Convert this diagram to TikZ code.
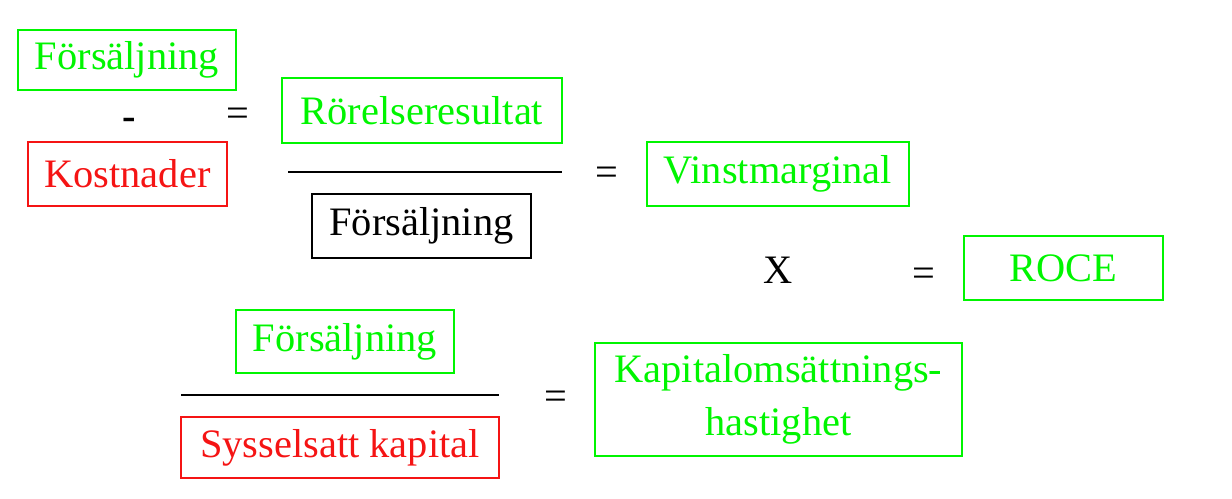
\documentclass[tikz,border=0pt]{standalone}
\usepackage{fontspec}
\setmainfont{Liberation Serif}
\usepackage{tikz}
\usepackage{xcolor}
\definecolor{gron}{RGB}{0,245,0}
\definecolor{rod}{RGB}{245,20,20}
\tikzset{
  ruta/.style={draw,line width=0.9pt,inner sep=0pt,align=center},
  gruta/.style={ruta,draw=gron,text=gron},
  rruta/.style={ruta,draw=rod,text=rod},
  sruta/.style={ruta,draw=black,text=black},
  tecken/.style={inner sep=0pt},
  streck/.style={line width=0.9pt}
}
\begin{document}
\begin{tikzpicture}[x=0.02cm,y=-0.02cm,font=\fontsize{23}{27}\selectfont]
\useasboundingbox (0,0) rectangle (1232,498);
% vinstmarginal
\node[gruta,minimum width=4.36cm,minimum height=1.2cm] (fors1) at (127,60) {Försäljning};
\node[tecken,font=\fontsize{23}{27}\selectfont\bfseries] (minus) at (129,124) {-};
\node[rruta,minimum width=3.98cm,minimum height=1.28cm] (kost) at (127.5,174) {Kostnader};
\node[tecken] (eq1) at (238,117) {=};
\node[gruta,minimum width=5.6cm,minimum height=1.3cm] (rores) at (422,110.5) {Rörelseresultat};
\coordinate (bar1a) at (288,172);
\coordinate (bar1b) at (562,172);
\draw[streck] (bar1a) -- (bar1b);
\node[sruta,minimum width=4.38cm,minimum height=1.28cm] (fors2) at (421.5,226) {Försäljning};
\node[tecken] (eq2) at (607,176) {=};
\node[gruta,minimum width=5.24cm,minimum height=1.28cm] (vinst) at (778,174) {Vinstmarginal};
% ROCE
\node[tecken] (gange) at (778,270) {X};
\node[tecken] (eq3) at (924,277) {=};
\node[gruta,minimum width=3.98cm,minimum height=1.28cm] (roce) at (1063.5,268) {ROCE};
% kapitalomsattningshastighet
\node[gruta,minimum width=4.36cm,minimum height=1.26cm] (fors3) at (345,341.5) {Försäljning};
\coordinate (bar2a) at (181,395);
\coordinate (bar2b) at (499,395);
\draw[streck] (bar2a) -- (bar2b);
\node[rruta,minimum width=6.36cm,minimum height=1.22cm] (syss) at (340,447.5) {Sysselsatt kapital};
\node[tecken] (eq4) at (556,400) {=};
\node[gruta,minimum width=7.34cm,minimum height=2.26cm,font=\fontsize{23}{30}\selectfont] (kapoms) at (778.5,399.5) {Kapitalomsättnings-\\hastighet};
\end{tikzpicture}
\end{document}
